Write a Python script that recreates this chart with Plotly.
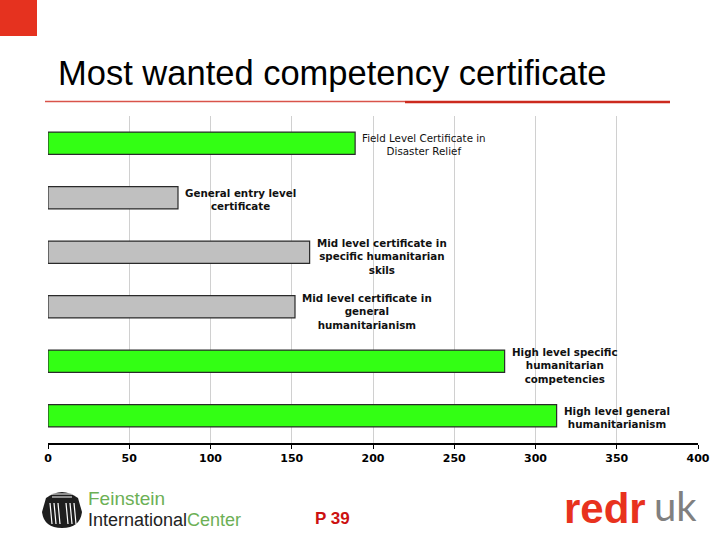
import plotly.graph_objects as go

categories = [
    "Field Level Certificate in Disaster Relief",
    "General entry level certificate",
    "Mid level certificate in specific humanitarian skils",
    "Mid level certificate in general humanitarianism",
    "High level specific humanitarian competencies",
    "High level general humanitarianism",
]
label_texts = [
    "Field Level Certificate in<br>Disaster Relief",
    "<b>General entry level<br>certificate</b>",
    "<b>Mid level certificate in<br>specific humanitarian<br>skils</b>",
    "<b>Mid level certificate in<br>general<br>humanitarianism</b>",
    "<b>High level specific<br>humanitarian<br>competencies</b>",
    "<b>High level general<br>humanitarianism</b>",
]
values = [189, 80, 161, 152, 281, 313]
bar_colors = ["#33ff14", "#c0c0c0", "#c0c0c0", "#c0c0c0", "#33ff14", "#33ff14"]
x_ticks = [0, 50, 100, 150, 200, 250, 300, 350, 400]

W, H = 720, 540
def px(x):
    return x / W
def py(y):
    return 1 - y / H

fig = go.Figure()
fig.add_trace(go.Bar(
    x=values, y=categories, orientation="h",
    marker=dict(color=bar_colors, line=dict(color="#2a2a2a", width=1.2)),
    width=0.41, hoverinfo="skip", showlegend=False,
))

annotations = []
for cat, val, txt in zip(categories, values, label_texts):
    nlines = txt.count("<br>") + 1
    annotations.append(dict(
        x=val, y=cat, xref="x", yref="y", text=txt, showarrow=False,
        xanchor="left", yanchor="middle", align="center", xshift=5,
        yshift=-1.5 - 3 * (nlines - 2),
        font=dict(family="DejaVu Sans", size=10.3, color="#111111"),
    ))

# Title and footer texts
annotations += [
    dict(x=px(56), y=py(73), xref="paper", yref="paper", text="Most wanted competency certificate",
         showarrow=False, xanchor="left", yanchor="middle",
         font=dict(family="Liberation Sans", size=34.5, color="#000000")),
    dict(x=px(332), y=py(518), xref="paper", yref="paper", text="<b>P 39</b>",
         showarrow=False, xanchor="center", yanchor="middle",
         font=dict(family="Liberation Sans", size=17, color="#cc1111")),
    dict(x=px(86), y=py(509), xref="paper", yref="paper",
         text="<span style='color:#6cb055;font-size:19px'>Feinstein</span><br>"
              "<span style='font-size:18px'>International</span>"
              "<span style='color:#6cb055;font-size:18px'>Center</span>",
         showarrow=False, xanchor="left", yanchor="middle", align="left",
         font=dict(family="Liberation Sans", size=16.5, color="#222222")),
    dict(x=px(562), y=py(508), xref="paper", yref="paper", text="<b>redr</b>",
         showarrow=False, xanchor="left", yanchor="middle",
         font=dict(family="Liberation Sans", size=42, color="#e8321e")),
    dict(x=px(652), y=py(506), xref="paper", yref="paper", text="uk",
         showarrow=False, xanchor="left", yanchor="middle",
         font=dict(family="DejaVu Sans ExtraLight, Lato, Liberation Sans", size=40, color="#808080")),
]

shapes = [
    dict(type="rect", xref="paper", yref="paper", x0=0, x1=px(37), y0=py(36), y1=1,
         fillcolor="#e5321f", line=dict(width=0)),
    dict(type="line", xref="paper", yref="paper", x0=px(45), x1=px(405), y0=py(101.5), y1=py(101.5),
         line=dict(color="#d9534a", width=1.5)),
    dict(type="line", xref="paper", yref="paper", x0=px(405), x1=px(670), y0=py(102), y1=py(102),
         line=dict(color="#cc2a1e", width=2.5)),
    # Feinstein logo icon (stylised drum)
    dict(type="path", xref="paper", yref="paper",
         path=f"M {px(46)},{py(498)} Q {px(62)},{py(486)} {px(78)},{py(498)} "
              f"L {px(82)},{py(512)} Q {px(80)},{py(528)} {px(62)},{py(528)} "
              f"Q {px(44)},{py(528)} {px(42)},{py(512)} Z",
         fillcolor="#1e1e1e", line=dict(width=0)),
]
for yy in (494, 497):
    shapes.append(dict(type="line", xref="paper", yref="paper", x0=px(52), x1=px(72),
                       y0=py(yy), y1=py(yy), line=dict(color="#ffffff", width=1)))
for xx in (50, 54, 58, 66, 70, 74):
    shapes.append(dict(type="line", xref="paper", yref="paper", x0=px(xx), x1=px(xx + 2),
                       y0=py(503), y1=py(524), line=dict(color="#ffffff", width=1.2)))

fig.update_layout(
    width=W, height=H, autosize=False,
    margin=dict(l=0, r=0, t=0, b=0, pad=0, autoexpand=False),
    paper_bgcolor="white", plot_bgcolor="white",
    bargap=0.59,
    xaxis=dict(domain=[px(48), px(698)], range=[0, 400], tickvals=x_ticks,
               ticktext=[f"<b>{t}</b>" for t in x_ticks],
               showgrid=True, gridcolor="#d0d0d0", gridwidth=1,
               showline=True, linecolor="#000000", linewidth=1.5,
               ticks="outside", ticklen=4, tickcolor="#000000",
               tickfont=dict(family="DejaVu Sans", size=11, color="#000000"),
               zeroline=False, fixedrange=True, automargin=False),
    yaxis=dict(domain=[py(443), py(116)], autorange="reversed", showticklabels=False,
               showgrid=False, showline=False, zeroline=False, ticks="", automargin=False),
    annotations=annotations,
    shapes=shapes,
)

fig.write_html("out.html", config={"displayModeBar": False},
               post_script="document.body.style.margin='0';document.body.style.padding='0';")
